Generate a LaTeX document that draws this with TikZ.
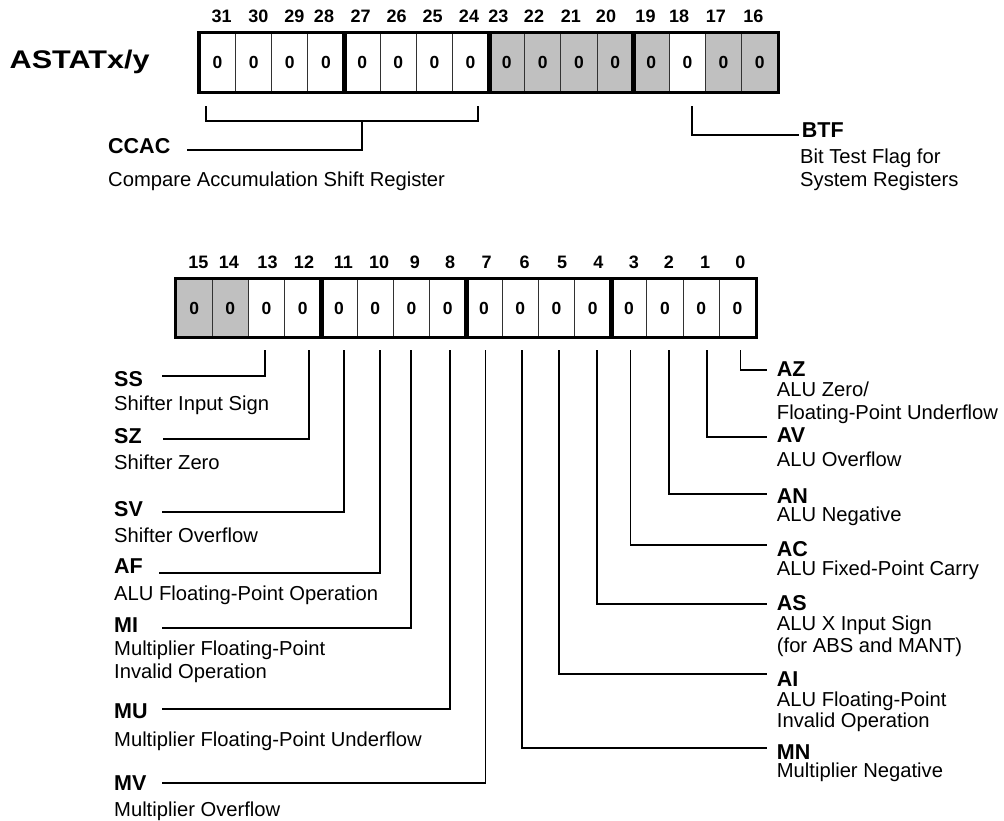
\documentclass[tikz,border=0pt]{standalone}
\usepackage{fontspec}
\setmainfont{Liberation Sans}
\usetikzlibrary{calc}
\definecolor{regGray}{RGB}{192,192,192}
\definecolor{divGray}{RGB}{50,50,50}
\newcommand\bitfnt{\fontsize{17.5}{19}\selectfont\bfseries}
\newcommand\numfnt{\fontsize{18}{19}\selectfont\bfseries}
\newcommand\flagfnt{\fontsize{21.5}{23}\selectfont\bfseries}
\newcommand\descfnt{\fontsize{20.2}{22.5}\selectfont}
\newcommand\titlefnt{\fontsize{25.5}{28}\selectfont\bfseries}
\tikzset{
  cell/.style={draw=divGray, line width=1pt, minimum width=36.15pt, minimum height=58pt, inner sep=0pt, font=\bitfnt},
  num/.style={font=\numfnt, inner sep=0pt},
  flag/.style={font=\flagfnt, anchor=base west, inner sep=0pt},
  desc/.style={font=\descfnt, anchor=base west, inner sep=0pt},
  lead/.style={line width=1.9pt, line cap=rect},
  border/.style={line width=3.2pt},
  groupsep/.style={line width=4.8pt}
}
\begin{document}
\begin{tikzpicture}[x=1pt,y=-1pt]
\useasboundingbox (0,0) rectangle (1004,821);
% ---------- title ----------
\node[anchor=base west, inner sep=0pt, font=\titlefnt] (title) at (9.5,68.5) {\scalebox{1.2}[1]{ASTATx/y}};
% ---------- upper register (bits 31..16) ----------
\foreach \i in {0,...,15}{
  \pgfmathtruncatemacro\bit{31-\i}
  \pgfmathsetmacro\cx{199.5+36.14*(\i+0.5)}
  \pgfmathtruncatemacro\isg{and(\bit>15,\bit<24)*(\bit!=18)}
  \ifnum\isg=1 \def\cf{regGray}\else\def\cf{white}\fi
  \node[cell, fill=\cf, minimum width=36.14pt, minimum height=59pt] (t\bit) at (\cx,62.2) {0};
}
\foreach \b in {28,24,20}{
  \draw[groupsep] (t\b.north east) -- (t\b.south east);
}
\draw[border] (t31.north west) rectangle (t16.south east);
\foreach \b/\x in {31/221.7,30/258.3,29/294.3,28/324,27/360.7,26/396.7,25/432.7,24/469,
                   23/498.3,22/534,21/570.8,20/606,19/645.5,18/679.2,17/715.8,16/753.3}{
  \node[num] (n\b) at (\x,16.7) {\b};
}
% ---------- lower register (bits 15..0) ----------
\foreach \i in {0,...,15}{
  \pgfmathtruncatemacro\bit{15-\i}
  \pgfmathsetmacro\cx{176+36.23*(\i+0.5)}
  \pgfmathtruncatemacro\isg{(\bit>13)}
  \ifnum\isg=1 \def\cf{regGray}\else\def\cf{white}\fi
  \node[cell, fill=\cf, minimum width=36.23pt, minimum height=58pt] (b\bit) at (\cx,308.3) {0};
}
\foreach \b in {12,8,4}{
  \draw[groupsep] (b\b.north east) -- (b\b.south east);
}
\draw[border] (b15.north west) rectangle (b0.south east);
\foreach \b/\x in {15/198.3,14/229,13/267.5,12/304,11/343.3,10/379.2,9/415,8/450,
                   7/486.7,6/524.7,5/562,4/598.3,3/633.8,2/668.8,1/705,0/740.3}{
  \node[num] (m\b) at (\x,262.7) {\b};
}
% ---------- upper labels ----------
\node[flag] (ccac) at (108,153.2) {CCAC};
\node[desc] (ccacd) at (108,186.2) {Compare Accumulation Shift Register};
\coordinate (brL) at (205.7,106.7);
\coordinate (brR) at (477.7,106.7);
\coordinate (brM) at (361.7,120.7);
\coordinate (ccacEnd) at (187.7,150);
\draw[lead] (brL) |- (brM) -| (brR);
\draw[lead] (brM) |- (ccacEnd);

\node[flag] (btf) at (801.7,137.3) {BTF};
\node[desc] (btfd1) at (800,163.6) {Bit Test Flag for};
\node[desc] (btfd2) at (800,186.6) {System Registers};
\coordinate (btfS) at (692.3,106.7);
\coordinate (btfE) at (798.3,135);
\draw[lead] (btfS) |- (btfE);

% ---------- lower labels, left side ----------
\node[flag] (ss) at (114,386.4) {SS};
\node[desc] (ssd) at (114,410) {Shifter Input Sign};
\node[flag] (sz) at (114,443.3) {SZ};
\node[desc] (szd) at (114,469.3) {Shifter Zero};
\node[flag] (sv) at (114,516.7) {SV};
\node[desc] (svd) at (114,542.3) {Shifter Overflow};
\node[flag] (af) at (114,573.3) {AF};
\node[desc] (afd) at (114,600) {ALU Floating-Point Operation};
\node[flag] (mi) at (114,632.3) {MI};
\node[desc] (mid1) at (114,655.7) {Multiplier Floating-Point};
\node[desc] (mid2) at (114,678.3) {Invalid Operation};
\node[flag] (mu) at (114,718.3) {MU};
\node[desc] (mud) at (114,746) {Multiplier Floating-Point Underflow};
\node[flag] (mv) at (114,790.7) {MV};
\node[desc] (mvd) at (114,816.7) {Multiplier Overflow};

\foreach \b/\x/\y/\e in {13/265/375.7/163, 12/309/439/164, 11/344/511.7/163, 10/380/573.3/159.5,
                         9/411/628.3/163, 8/450/709/163, 7/485.5/783.3/163}{
  \coordinate (s\b) at (\x,351);
  \coordinate (e\b) at (\e,\y);
  \draw[lead] (s\b) |- (e\b);
}

% ---------- lower labels, right side ----------
\node[flag] (az) at (776.7,376.7) {AZ};
\node[desc] (azd1) at (776.7,396.7) {ALU Zero/};
\node[desc] (azd2) at (776.7,419.3) {Floating-Point Underflow};
\node[flag] (av) at (776.7,442.3) {AV};
\node[desc] (avd) at (776.7,466) {ALU Overflow};
\node[flag] (an) at (776.7,503.3) {AN};
\node[desc] (and) at (776.7,521) {ALU Negative};
\node[flag] (ac) at (776.7,556.7) {AC};
\node[desc] (acd) at (776.7,575.7) {ALU Fixed-Point Carry};
\node[flag] (as) at (776.7,610.7) {AS};
\node[desc] (asd1) at (776.7,630.7) {ALU X Input Sign};
\node[desc] (asd2) at (776.7,652.7) {(for ABS and MANT)};
\node[flag] (ai) at (776.7,686.7) {AI};
\node[desc] (aid1) at (776.7,706.7) {ALU Floating-Point};
\node[desc] (aid2) at (776.7,727.7) {Invalid Operation};
\node[flag] (mn) at (776.7,759.3) {MN};
\node[desc] (mnd) at (776.7,777.7) {Multiplier Negative};

\foreach \b/\x/\y in {6/521.7/748.3, 5/559/674, 4/597/604.3, 3/630.5/545,
                      2/669/494.3, 1/707/436.7, 0/740.5/370}{
  \coordinate (s\b) at (\x,351);
  \coordinate (e\b) at (766.5,\y);
  \draw[lead] (s\b) |- (e\b);
}
\end{tikzpicture}
\end{document}
